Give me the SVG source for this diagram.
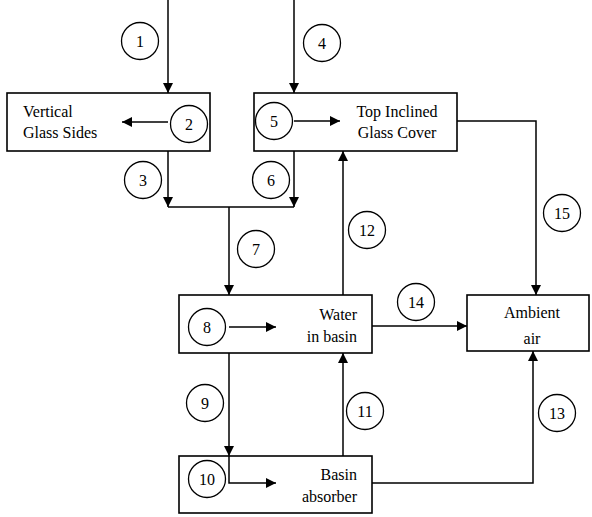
<svg xmlns="http://www.w3.org/2000/svg" width="592" height="517" viewBox="0 0 592 517">
<defs>
<marker id="ah" viewBox="0 0 10 10" refX="10" refY="5" markerWidth="10" markerHeight="10" markerUnits="userSpaceOnUse" orient="auto">
<path d="M0,0 L10,5 L0,10 z" fill="#000"/>
</marker>
<style>
.box{fill:#fff;stroke:#000;stroke-width:1.6}
.ln{fill:none;stroke:#000;stroke-width:1.5}
.ar{fill:none;stroke:#000;stroke-width:1.5;marker-end:url(#ah)}
.c{fill:#fff;stroke:#000;stroke-width:1.3}
text{font-size:16px;fill:#000}
.n{text-anchor:middle}
</style>
</defs>
<rect width="592" height="517" fill="#fff"/>
<g font-family="Liberation Serif, Times New Roman, serif">
<g id="vertical-glass-sides">
<rect class="box" x="7" y="93" width="203" height="58"/>
<text x="23" y="117">Vertical</text>
<text x="23" y="138">Glass Sides</text>
</g>
<g id="top-inclined-glass-cover">
<rect class="box" x="254" y="93" width="203" height="58"/>
<text x="397" y="117" text-anchor="middle">Top Inclined</text>
<text x="397" y="138" text-anchor="middle">Glass Cover</text>
</g>
<g id="water-in-basin">
<rect class="box" x="179" y="295" width="193" height="58"/>
<text x="357" y="320" text-anchor="end">Water</text>
<text x="357" y="342" text-anchor="end">in basin</text>
</g>
<g id="ambient-air">
<rect class="box" x="467" y="295" width="122" height="56"/>
<text x="532" y="318" text-anchor="middle">Ambient</text>
<text x="532" y="344" text-anchor="middle">air</text>
</g>
<g id="basin-absorber">
<rect class="box" x="179" y="456" width="193" height="57"/>
<text x="357" y="480" text-anchor="end">Basin</text>
<text x="357" y="502" text-anchor="end">absorber</text>
</g>
<g id="connectors">
<line class="ar" x1="168" y1="0" x2="168" y2="93"/>
<line class="ar" x1="168" y1="122" x2="122" y2="122"/>
<line class="ar" x1="168" y1="151" x2="168" y2="207"/>
<line class="ar" x1="294" y1="0" x2="294" y2="93"/>
<line class="ar" x1="294" y1="121" x2="340" y2="121"/>
<line class="ar" x1="294" y1="151" x2="294" y2="207"/>
<line class="ln" x1="168" y1="207" x2="294" y2="207"/>
<line class="ar" x1="229" y1="207" x2="229" y2="295"/>
<line class="ar" x1="229" y1="327" x2="276" y2="327"/>
<line class="ar" x1="229" y1="353" x2="229" y2="456"/>
<polyline class="ar" points="229,456 229,483 276,483"/>
<line class="ar" x1="343" y1="295" x2="343" y2="151"/>
<line class="ar" x1="343" y1="456" x2="343" y2="353"/>
<polyline class="ar" points="457,121 536,121 536,295"/>
<line class="ar" x1="372" y1="326" x2="467" y2="326"/>
<polyline class="ar" points="372,483 533,483 533,351"/>
</g>
<g id="labels">
<circle class="c" cx="140" cy="41" r="18.5"/><text class="n" x="140" y="47">1</text>
<circle class="c" cx="189" cy="124" r="18.5"/><text class="n" x="189" y="130">2</text>
<circle class="c" cx="143" cy="180" r="18.5"/><text class="n" x="143" y="186">3</text>
<circle class="c" cx="322" cy="43" r="18.5"/><text class="n" x="322" y="49">4</text>
<circle class="c" cx="274" cy="121" r="18.5"/><text class="n" x="274" y="127">5</text>
<circle class="c" cx="271" cy="180" r="18.5"/><text class="n" x="271" y="186">6</text>
<circle class="c" cx="256" cy="249" r="18.5"/><text class="n" x="256" y="255">7</text>
<circle class="c" cx="207" cy="327" r="18.5"/><text class="n" x="207" y="333">8</text>
<circle class="c" cx="205" cy="403" r="18.5"/><text class="n" x="205" y="409">9</text>
<circle class="c" cx="207" cy="479" r="18.5"/><text class="n" x="207" y="485">10</text>
<circle class="c" cx="365" cy="411" r="18.5"/><text class="n" x="365" y="417">11</text>
<circle class="c" cx="367" cy="230" r="18.5"/><text class="n" x="367" y="236">12</text>
<circle class="c" cx="557" cy="413" r="18.5"/><text class="n" x="557" y="419">13</text>
<circle class="c" cx="416" cy="302" r="18.5"/><text class="n" x="416" y="308">14</text>
<circle class="c" cx="562" cy="213" r="18.5"/><text class="n" x="562" y="219">15</text>
</g>
</g>
</svg>
